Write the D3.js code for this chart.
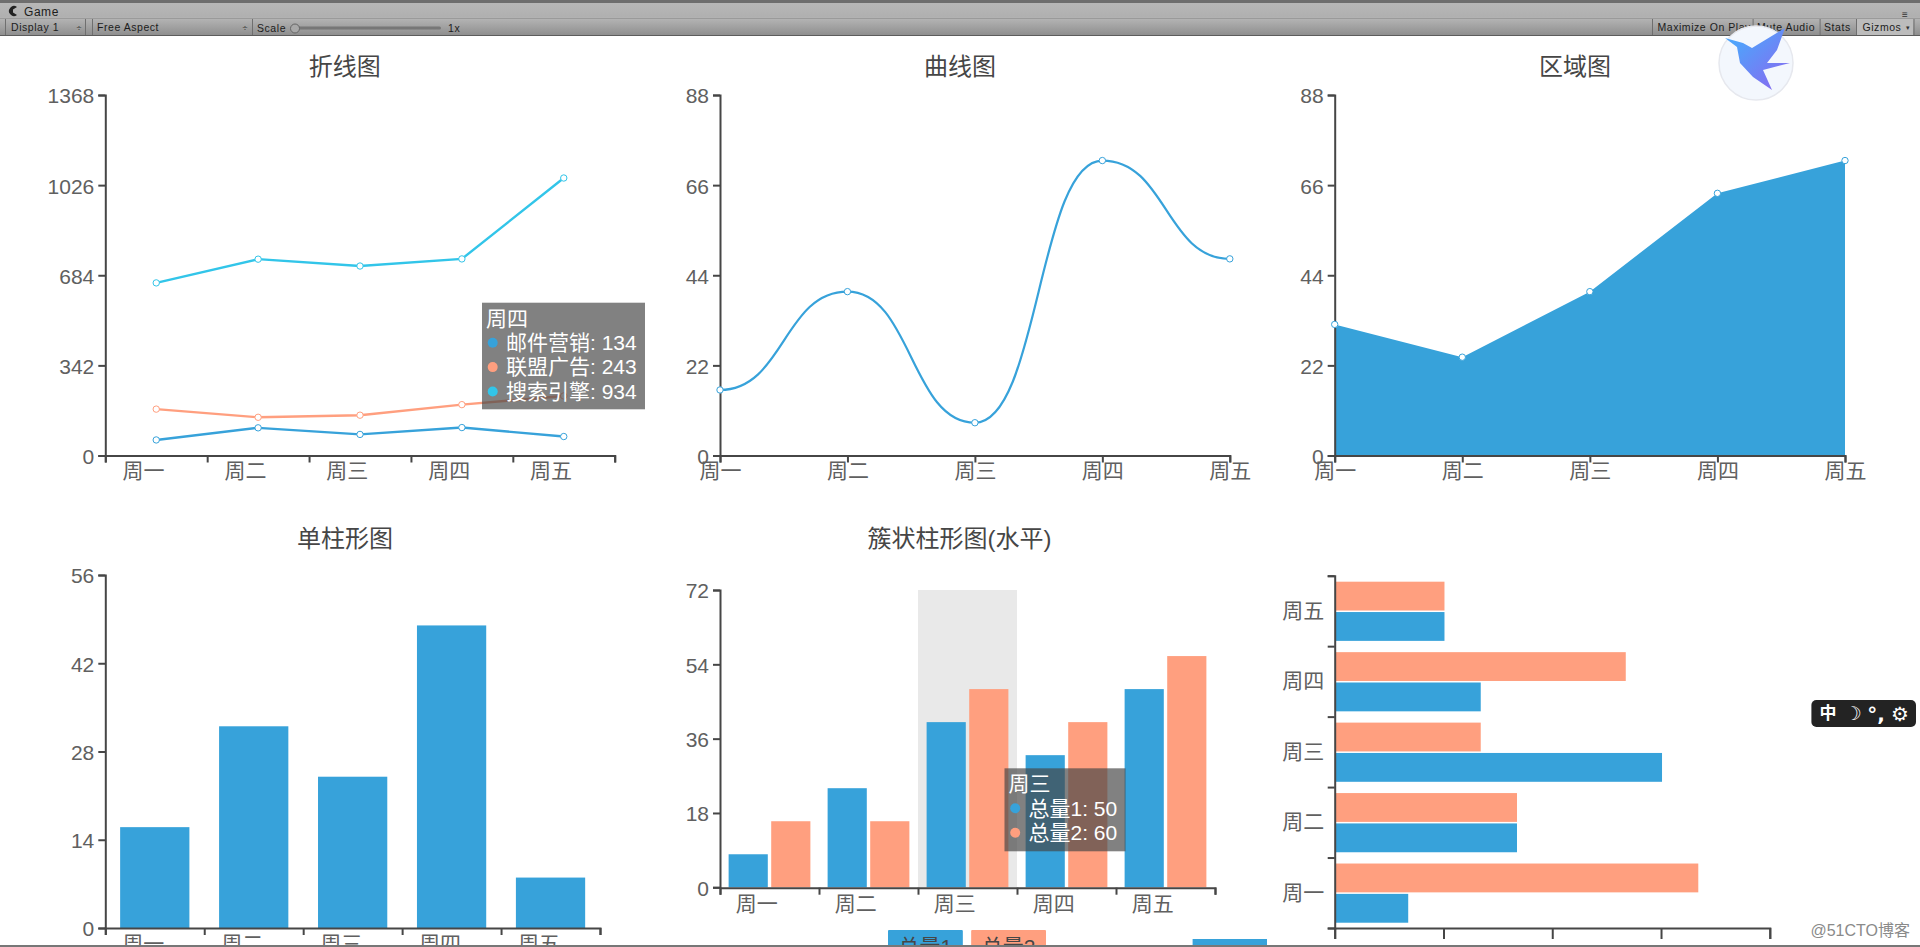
<!DOCTYPE html>
<html>
<head>
<meta charset="utf-8">
<script src="https://d3js.org/d3.v7.min.js"></script>
<style>
body { margin: 0; background: #fff; overflow: hidden; }
text { font-family: "Liberation Sans", "Noto Sans CJK SC", sans-serif; }
.tick text { fill: #606060; font-size: 21px; font-family: "Liberation Sans", "Noto Sans CJK SC", sans-serif; }
.tick line, .domain { stroke: #464646; stroke-width: 2px; }
.bar-text { fill: #1c1c1c; font-size: 10.5px; letter-spacing: .55px; }
</style>
</head>
<body>
<script>
//data
var days = ["周一", "周二", "周三", "周四", "周五"];
var lineMail = [59, 105, 80, 106, 72];
var lineAd = [176, 145, 153, 193, 226];
var lineSearch = [655, 745, 719, 746, 1053];
var lineTicks = [0, 342, 684, 1026, 1368];
var curveValues = [16, 40, 8, 72, 48];
var curveTicks = [0, 22, 44, 66, 88];
var areaValues = [32, 24, 40, 64, 72];
var barValues = [16, 32, 24, 48, 8];
var barTicks = [0, 14, 28, 42, 56];
var groupOne = [8, 24, 40, 32, 48];
var groupTwo = [16, 16, 48, 40, 56];
var groupTicks = [0, 18, 36, 54, 72];
var sideOne = [8, 20, 36, 16, 12];
var sideTwo = [40, 20, 16, 32, 12];
var sideTicks = [0, 12, 24, 36, 48];
var legendNames = ["总量1", "总量2"];

var blue = "#37a2da", orange = "#ff9f7f", cyan = "#32c5e9";

var svg = d3.select("body")
    .append("svg")
    .attr("width", 1920)
    .attr("height", 947)
    .style("display", "block");

function title(text, x, y) {
    svg.append("text")
        .attr("x", x)
        .attr("y", y)
        .attr("text-anchor", "middle")
        .attr("dy", ".35em")
        .attr("fill", "#464646")
        .attr("font-size", 24)
        .text(text);
}

function yAxis(scale, ticks, x) {
    var g = svg.append("g")
        .attr("transform", "translate(" + x + ",0)")
        .call(d3.axisLeft(scale).tickValues(ticks).tickFormat(d3.format("d")).tickSize(7).tickPadding(4));
    g.selectAll("text").attr("dy", ".38em");
    return g;
}

// axis whose ticks sit on the band edges, labels drawn by the band scale
function bandAxisBottom(band, y, dx) {
    var edges = d3.scaleLinear().domain([0, days.length]).range(band.range());
    svg.append("g")
        .attr("transform", "translate(0," + y + ")")
        .call(d3.axisBottom(edges).ticks(days.length).tickFormat("").tickSize(7));
    var g = svg.append("g")
        .attr("transform", "translate(0," + y + ")")
        .call(d3.axisBottom(band).tickSize(0).tickPadding(8));
    g.select(".domain").remove();
    g.selectAll("text").attr("dx", dx);
}

function pointAxisBottom(point, y) {
    var g = svg.append("g")
        .attr("transform", "translate(0," + y + ")")
        .call(d3.axisBottom(point).tickSize(7).tickPadding(1));
    return g;
}

function dots(data, x, y, color) {
    svg.append("g").selectAll("circle")
        .data(data)
        .enter()
        .append("circle")
        .attr("cx", function (d, i) { return x(days[i]); })
        .attr("cy", function (d) { return y(d); })
        .attr("r", 3.2)
        .attr("fill", "#fff")
        .attr("stroke", color)
        .attr("stroke-width", 1);
}

function tooltip(x, y, w, h, head, rows) {
    svg.append("rect")
        .attr("x", x).attr("y", y).attr("width", w).attr("height", h)
        .attr("fill", "rgba(70,70,70,0.68)");
    svg.append("text")
        .attr("x", x + 4).attr("y", y + 15.5)
        .attr("dy", ".35em")
        .attr("fill", "#fff").attr("font-size", 21)
        .text(head);
    rows.forEach(function (r, i) {
        var cy = y + 40 + i * 24.4;
        svg.append("circle")
            .attr("cx", x + 10.7).attr("cy", cy).attr("r", 5)
            .attr("fill", r.color);
        svg.append("text")
            .attr("x", x + 24).attr("y", cy)
            .attr("dy", ".35em")
            .attr("fill", "#fff").attr("font-size", 21)
            .text(r.text);
    });
}

//---- line chart
var lineX = d3.scaleBand().domain(days).range([105.3, 614.7]);
var lineY = d3.scaleLinear().domain([0, 1368]).range([455.5, 95]);
var lineCenter = function (d) { return lineX(d) + lineX.bandwidth() / 2; };
var linePath = d3.line()
    .x(function (d, i) { return lineCenter(days[i]); })
    .y(function (d) { return lineY(d); });

title("折线图", 344.7, 66.7);
yAxis(lineY, lineTicks, 105.3);
bandAxisBottom(lineX, 455.5, -12.7);
[[lineMail, blue], [lineAd, orange], [lineSearch, cyan]].forEach(function (s) {
    svg.append("path")
        .attr("d", linePath(s[0]))
        .attr("fill", "none")
        .attr("stroke", s[1])
        .attr("stroke-width", 2.4);
    dots(s[0], lineCenter, lineY, s[1]);
});

//---- smooth line chart
var curveX = d3.scalePoint().domain(days).range([720, 1229.8]);
var curveY = d3.scaleLinear().domain([0, 88]).range([455.5, 95]);
var curvePath = d3.line()
    .x(function (d, i) { return curveX(days[i]); })
    .y(function (d) { return curveY(d); })
    .curve(d3.curveBumpX);

title("曲线图", 960, 66.7);
yAxis(curveY, curveTicks, 720);
pointAxisBottom(curveX, 455.5);
svg.append("path")
    .attr("d", curvePath(curveValues))
    .attr("fill", "none")
    .attr("stroke", blue)
    .attr("stroke-width", 2.2);
dots(curveValues, curveX, curveY, blue);

//---- area chart
var areaX = d3.scalePoint().domain(days).range([1334.7, 1845]);
var areaY = d3.scaleLinear().domain([0, 88]).range([455.5, 95]);
var areaPath = d3.area()
    .x(function (d, i) { return areaX(days[i]); })
    .y0(areaY(0))
    .y1(function (d) { return areaY(d); });

title("区域图", 1575, 66.7);
svg.append("path")
    .attr("d", areaPath(areaValues))
    .attr("fill", blue);
pointAxisBottom(areaX, 455.5);
yAxis(areaY, curveTicks, 1334.7);
dots(areaValues, areaX, areaY, blue);

//---- single bars
var barX = d3.scaleBand().domain(days).range([105.3, 600]);
var barY = d3.scaleLinear().domain([0, 56]).range([928, 575]);
var barWidth = barX.bandwidth() * 0.7;

title("单柱形图", 345, 539);
svg.append("g").selectAll("rect")
    .data(barValues)
    .enter()
    .append("rect")
    .attr("x", function (d, i) { return barX(days[i]) + (barX.bandwidth() - barWidth) / 2; })
    .attr("y", function (d) { return barY(d); })
    .attr("width", barWidth)
    .attr("height", function (d) { return barY(0) - barY(d); })
    .attr("fill", blue);
yAxis(barY, barTicks, 105.3);
bandAxisBottom(barX, 928, -11.5);

//---- clustered bars
var groupX = d3.scaleBand().domain(days).range([720, 1215]);
var groupY = d3.scaleLinear().domain([0, 72]).range([887.3, 590]);
var groupInner = d3.scaleBand()
    .domain([0, 1])
    .range([groupX.bandwidth() * 0.087, groupX.bandwidth() * 0.913])
    .paddingInner(0.08);

title("簇状柱形图(水平)", 959.6, 539);
svg.append("rect")
    .attr("x", groupX("周三"))
    .attr("y", groupY(72))
    .attr("width", groupX.bandwidth())
    .attr("height", groupY(0) - groupY(72))
    .attr("fill", "#e9e9e9");
[[groupOne, blue], [groupTwo, orange]].forEach(function (s, k) {
    svg.append("g").selectAll("rect")
        .data(s[0])
        .enter()
        .append("rect")
        .attr("x", function (d, i) { return groupX(days[i]) + groupInner(k); })
        .attr("y", function (d) { return groupY(d); })
        .attr("width", groupInner.bandwidth())
        .attr("height", function (d) { return groupY(0) - groupY(d); })
        .attr("fill", s[1]);
});
yAxis(groupY, groupTicks, 720);
bandAxisBottom(groupX, 887.7, -12.7);

// legend, cut off by the window edge
var legendX = d3.scaleBand().domain(legendNames).range([888, 1046]).paddingInner(0.1);
legendNames.forEach(function (name, i) {
    svg.append("rect")
        .attr("x", legendX(name)).attr("y", 930)
        .attr("width", legendX.bandwidth()).attr("height", 17)
        .attr("rx", 1)
        .attr("fill", i == 0 ? blue : orange);
    svg.append("text")
        .attr("x", legendX(name) + legendX.bandwidth() / 2).attr("y", 954)
        .attr("text-anchor", "middle")
        .attr("fill", "#464646").attr("font-size", 21)
        .text(name);
});

//---- horizontal bars
var sideY = d3.scaleBand().domain(days).range([928, 575.7]);
var sideX = d3.scaleLinear().domain([0, 48]).range([1334.7, 1769.8]);
var sideInner = d3.scaleBand()
    .domain([0, 1])
    .range([sideY.bandwidth() * 0.925, sideY.bandwidth() * 0.085])
    .paddingInner(0.05);

[[sideOne, blue], [sideTwo, orange]].forEach(function (s, k) {
    svg.append("g").selectAll("rect")
        .data(s[0])
        .enter()
        .append("rect")
        .attr("x", sideX(0) + 1)
        .attr("y", function (d, i) { return sideY(days[i]) + sideInner(k); })
        .attr("width", function (d) { return sideX(d) - sideX(0); })
        .attr("height", sideInner.bandwidth())
        .attr("fill", s[1]);
});

svg.append("g")
    .attr("transform", "translate(0,928)")
    .call(d3.axisBottom(sideX).tickValues(sideTicks).tickFormat("").tickSize(11));
var sideEdges = d3.scaleLinear().domain([0, days.length]).range(sideY.range());
svg.append("g")
    .attr("transform", "translate(1334.7,0)")
    .call(d3.axisLeft(sideEdges).ticks(days.length).tickFormat("").tickSize(7));
var sideLabels = svg.append("g")
    .attr("transform", "translate(1334.7,0)")
    .call(d3.axisLeft(sideY).tickSize(0).tickPadding(10.5));
sideLabels.select(".domain").remove();

// third legend, only its top edge shows
svg.append("rect")
    .attr("x", 1192.6).attr("y", 939)
    .attr("width", 74.4).attr("height", 8)
    .attr("fill", blue);

//---- tooltips
tooltip(482, 302.7, 163, 106.6, "周四", [
    { color: blue, text: "邮件营销: 134" },
    { color: orange, text: "联盟广告: 243" },
    { color: cyan, text: "搜索引擎: 934" }
]);
tooltip(1004.5, 768.3, 121, 83, "周三", [
    { color: blue, text: "总量1: 50" },
    { color: orange, text: "总量2: 60" }
]);

//---- editor toolbar
var chrome = svg.append("defs").append("linearGradient")
    .attr("id", "chrome").attr("x1", 0).attr("x2", 0).attr("y1", 0).attr("y2", 1);
chrome.append("stop").attr("offset", "0").attr("stop-color", "#b9b9b9");
chrome.append("stop").attr("offset", ".47").attr("stop-color", "#b0b0b0");
chrome.append("stop").attr("offset", ".53").attr("stop-color", "#b4b4b4");
chrome.append("stop").attr("offset", "1").attr("stop-color", "#8f8f8f");

svg.append("rect").attr("width", 1920).attr("height", 35).attr("fill", "url(#chrome)");
svg.append("rect").attr("width", 1920).attr("height", 3).attr("fill", "#6e6e6e");
svg.append("rect").attr("y", 18).attr("width", 1920).attr("height", 1).attr("fill", "#9a9a9a");
svg.append("rect").attr("y", 35).attr("width", 1920).attr("height", 1).attr("fill", "#5c5c5c");
svg.append("rect").attr("y", 945).attr("width", 1920).attr("height", 2).attr("fill", "#777");
svg.append("rect").attr("x", 1857).attr("y", 19).attr("width", 56).attr("height", 16).attr("fill", "#bcbcbc");

[5, 85, 92, 252, 1652, 1752.6, 1819.6, 1856, 1913.5].forEach(function (x) {
    svg.append("rect").attr("x", x).attr("y", 19).attr("width", 1).attr("height", 16).attr("fill", "#6f6f6f");
});

[["Game", 24, 16, 12], ["Display 1", 11, 31], ["Free Aspect", 97, 31], ["Scale", 257, 32], ["1x", 448, 32],
 ["Maximize On Play", 1657.5, 31], ["Mute Audio", 1757, 31], ["Stats", 1824, 31], ["Gizmos", 1862.5, 31]].forEach(function (t) {
    svg.append("text").attr("class", "bar-text")
        .attr("x", t[1]).attr("y", t[2])
        .style("font-size", t[3] ? t[3] + "px" : null)
        .text(t[0]);
});

// window icon, a small crescent
svg.append("path")
    .attr("d", "M17 7 A5 5 0 1 0 17 15 L13 12.5 L13 9.5 Z")
    .attr("fill", "#222");
svg.append("rect").attr("x", 295).attr("y", 26.5).attr("width", 146).attr("height", 3).attr("rx", 1.5).attr("fill", "#777");
svg.append("circle").attr("cx", 295).attr("cy", 28.5).attr("r", 4.5).attr("fill", "#a8a8a8").attr("stroke", "#666");
[79, 245].forEach(function (x) {
    svg.append("text").attr("x", x).attr("y", 31).attr("fill", "#333").attr("font-size", 9).attr("text-anchor", "middle").text("÷");
});
svg.append("text").attr("x", 1905).attr("y", 18).attr("fill", "#333").attr("font-size", 10).attr("text-anchor", "middle").text("≡");
svg.append("text").attr("x", 1908).attr("y", 30).attr("fill", "#333").attr("font-size", 7).attr("text-anchor", "middle").text("▾");

//---- overlays from the screenshot
var birdFill = svg.select("defs").append("linearGradient")
    .attr("id", "bird").attr("x1", 0).attr("x2", 1).attr("y1", 0).attr("y2", 1);
birdFill.append("stop").attr("offset", ".2").attr("stop-color", "#4fa3fb");
birdFill.append("stop").attr("offset", "1").attr("stop-color", "#8e63ef");

svg.append("circle")
    .attr("cx", 1756).attr("cy", 63).attr("r", 37)
    .attr("fill", "#f3f7fd").attr("stroke", "#e6e8ee").attr("stroke-width", 1.5);
svg.append("path")
    .attr("d", "M1725 38 L1743 43 L1752 48 L1785 28 L1777 50 L1767 63 L1790 63 L1763 70 L1772 90 L1753 77 L1740 63 L1737 47 Z")
    .attr("fill", "url(#bird)");

svg.append("rect")
    .attr("x", 1811.4).attr("y", 700).attr("width", 104.6).attr("height", 27).attr("rx", 5)
    .attr("fill", "#232323");
[["中", 1828, 17, 700], ["☽", 1853, 19, 700], ["°,", 1876, 20, 700], ["⚙", 1900, 20, 400]].forEach(function (t) {
    svg.append("text")
        .attr("x", t[1]).attr("y", 713.5)
        .attr("dy", ".35em")
        .attr("text-anchor", "middle")
        .attr("fill", "#fff")
        .attr("font-size", t[2])
        .attr("font-weight", t[3])
        .style("font-family", "'DejaVu Sans', 'Noto Sans CJK SC', sans-serif")
        .text(t[0]);
});

svg.append("text")
    .attr("x", 1910).attr("y", 936)
    .attr("text-anchor", "end")
    .attr("fill", "#8a8a8a")
    .attr("font-size", 16)
    .text("@51CTO博客");
</script>
</body>
</html>
